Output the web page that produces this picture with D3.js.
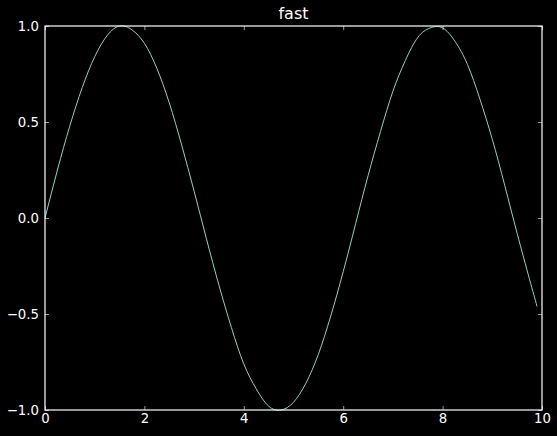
<!DOCTYPE html>
<html>
<head>
<meta charset="utf-8">
<script src="https://cdn.jsdelivr.net/npm/d3@7"></script>
<style>
  html, body { margin: 0; padding: 0; background: #000; }
  svg text { font-family: "DejaVu Sans", sans-serif; fill: #fff; }
</style>
</head>
<body>
<div id="chart"></div>
<script>
/* CONSTANTS AND GLOBALS */
const width = 557,
  height = 436,
  margin = { top: 26, bottom: 26, left: 45, right: 15 };

// values
const xValues = [0, 0.25, 0.5, 0.75, 1, 1.25, 1.5, 1.75, 2, 2.25, 2.5, 2.75, 3, 3.25,
  3.5, 3.75, 4, 4.25, 4.5, 4.75, 5, 5.25, 5.5, 5.75, 6, 6.25, 6.5, 6.75, 7, 7.25,
  7.5, 7.75, 8, 8.25, 8.5, 8.75, 9, 9.25, 9.5, 9.75, 9.9];
const yValues = [0.00, 0.25, 0.48, 0.68, 0.84, 0.95, 1.00, 0.98, 0.91, 0.78, 0.60, 0.38,
  0.14, -0.11, -0.35, -0.57, -0.76, -0.89, -0.98, -1.00, -0.96, -0.86, -0.71, -0.51,
  -0.28, -0.03, 0.22, 0.45, 0.66, 0.82, 0.94, 0.99, 0.99, 0.92, 0.80, 0.62, 0.41,
  0.17, -0.08, -0.32, -0.46];
const xTicks = [0, 2, 4, 6, 8, 10];
const yTicks = [-1.0, -0.5, 0.0, 0.5, 1.0];
const title = "fast";

const data = xValues.map((x, i) => ({ x: x, y: yValues[i] }));

const svg = d3.select("#chart")
  .append("svg")
  .attr("width", width)
  .attr("height", height);

// + SCALES
const xScale = d3.scaleLinear()
  .domain([0, 10])
  .range([margin.left, width - margin.right]);

const yScale = d3.scaleLinear()
  .domain([-1, 1])
  .range([height - margin.bottom, margin.top]);

// + LINE
const lineFunc = d3.line()
  .x(d => xScale(d.x))
  .y(d => yScale(d.y))
  .curve(d3.curveNatural);

svg.append("path")
  .datum(data)
  .attr("fill", "none")
  .attr("stroke", "#8dd3c7")
  .attr("stroke-width", 1)
  .attr("d", lineFunc);

// + AXES (ticks point inward, on all four sides)
const tickFmt = d3.format(".1f");
const minus = s => s.replace("-", "\u2212");

function styleAxis(g) {
  g.select(".domain").remove();
  g.selectAll(".tick line").attr("stroke", "#fff").attr("stroke-width", 0.6);
  g.selectAll(".tick text").attr("font-size", "13.3px").attr("fill", "#fff");
}

svg.append("g")
  .attr("transform", `translate(0,${height - margin.bottom})`)
  .call(d3.axisBottom(xScale).tickValues(xTicks).tickSizeInner(-4).tickPadding(4)
    .tickFormat(d3.format("d")))
  .call(styleAxis);

svg.append("g")
  .attr("transform", `translate(0,${margin.top})`)
  .call(d3.axisTop(xScale).tickValues(xTicks).tickSizeInner(-4).tickFormat(""))
  .call(styleAxis);

svg.append("g")
  .attr("transform", `translate(${margin.left},0)`)
  .call(d3.axisLeft(yScale).tickValues(yTicks).tickSizeInner(-4).tickPadding(6)
    .tickFormat(d => minus(tickFmt(d))))
  .call(styleAxis);

svg.append("g")
  .attr("transform", `translate(${width - margin.right},0)`)
  .call(d3.axisRight(yScale).tickValues(yTicks).tickSizeInner(-4).tickFormat(""))
  .call(styleAxis);

// frame
svg.append("rect")
  .attr("x", margin.left)
  .attr("y", margin.top)
  .attr("width", width - margin.left - margin.right)
  .attr("height", height - margin.top - margin.bottom)
  .attr("fill", "none")
  .attr("stroke", "#fff")
  .attr("stroke-width", 1.2);

// + TITLE
svg.append("text")
  .attr("x", (xScale.range()[0] + xScale.range()[1]) / 2)
  .attr("y", 19)
  .attr("text-anchor", "middle")
  .attr("font-size", "16px")
  .text(title);
</script>
</body>
</html>
